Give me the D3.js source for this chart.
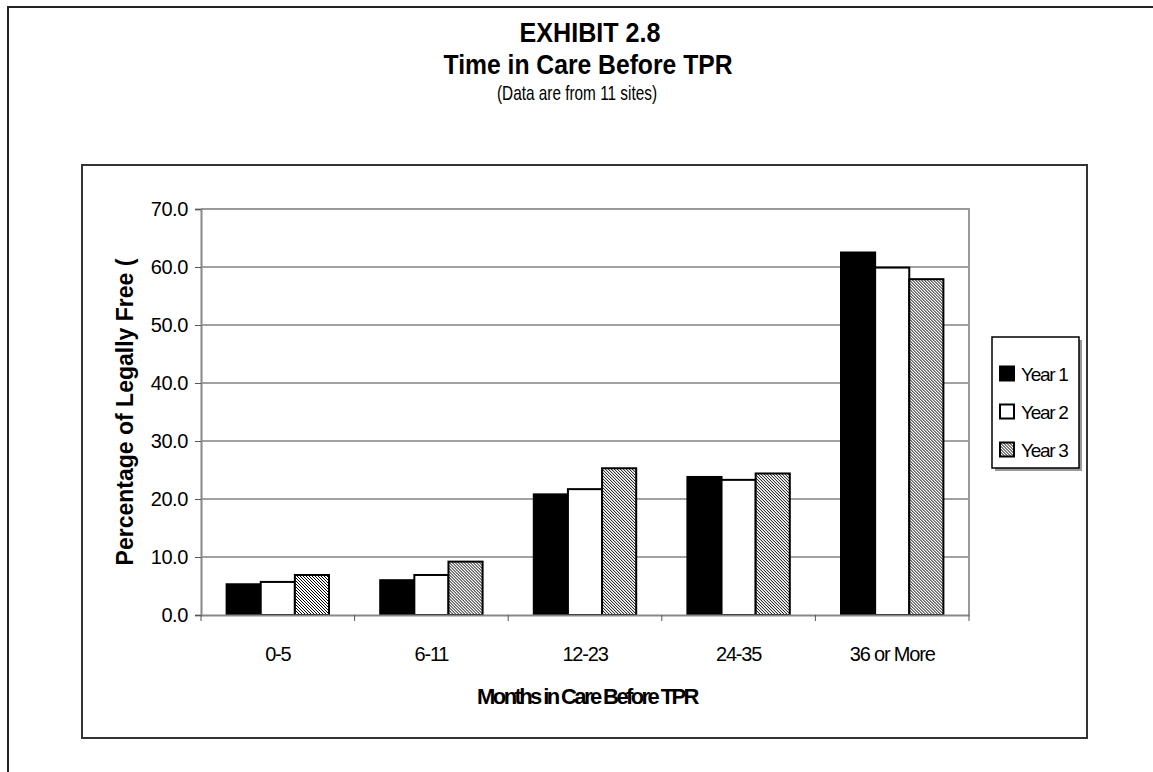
<!DOCTYPE html>
<html>
<head>
  <title>Exhibit 2.8</title>
  <script src="https://d3js.org/d3.v7.min.js"></script>
  <style>
    body { margin: 0; background: #ffffff; }
    svg { display: block; }
    .ttl { font-family: "Liberation Sans Narrow", "Arial Narrow", "Liberation Sans", Arial, sans-serif; fill: #000; }
    .lbl { font-family: "Liberation Sans", Arial, sans-serif; fill: #000; }
  </style>
</head>
<body>
<svg width="1153" height="772"></svg>

<script>
  // data
  var categories = ["0-5", "6-11", "12-23", "24-35", "36 or More"];
  var seriesNames = ["Year 1", "Year 2", "Year 3"];
  var year1 = [5.3, 6.0, 20.8, 23.8, 62.5];
  var year2 = [5.7, 6.9, 21.7, 23.3, 59.9];
  var year3 = [6.9, 9.2, 25.3, 24.4, 57.9];
  var yTicks = [0, 10, 20, 30, 40, 50, 60, 70];

  var seriesValues = [year1, year2, year3];

  var svg = d3.select("svg");

  // hatch pattern for Year 3
  var defs = svg.append("defs");
  var pat = defs.append("pattern")
    .attr("id", "hatch")
    .attr("patternUnits", "userSpaceOnUse")
    .attr("width", 3)
    .attr("height", 3);
  pat.append("rect").attr("width", 3).attr("height", 3).attr("fill", "#ffffff");
  pat.append("path")
    .attr("d", "M-1,-1 L4,4 M-1,2 L1,4 M2,-1 L4,1")
    .attr("stroke", "#000")
    .attr("stroke-width", 1);

  var fills = ["#000000", "#ffffff", "url(#hatch)"];

  // page frame (top and left)
  svg.append("line").attr("x1", 7).attr("x2", 1153).attr("y1", 7).attr("y2", 7)
     .attr("stroke", "#222").attr("stroke-width", 2);
  svg.append("line").attr("x1", 8).attr("x2", 8).attr("y1", 6).attr("y2", 772)
     .attr("stroke", "#222").attr("stroke-width", 2);

  // titles
  svg.append("text").attr("class", "ttl")
     .attr("x", 590).attr("y", 42).attr("text-anchor", "middle")
     .attr("font-size", 28).attr("font-weight", "bold")
     .attr("textLength", 141).attr("lengthAdjust", "spacingAndGlyphs")
     .text("EXHIBIT 2.8");
  svg.append("text").attr("class", "ttl")
     .attr("x", 588).attr("y", 74).attr("text-anchor", "middle")
     .attr("font-size", 28).attr("font-weight", "bold")
     .attr("textLength", 289).attr("lengthAdjust", "spacingAndGlyphs")
     .text("Time in Care Before TPR");
  svg.append("text").attr("class", "ttl")
     .attr("x", 577).attr("y", 100).attr("text-anchor", "middle")
     .attr("font-size", 21)
     .attr("textLength", 160).attr("lengthAdjust", "spacingAndGlyphs")
     .text("(Data are from 11 sites)");

  // chart area box
  svg.append("rect")
     .attr("x", 82).attr("y", 165).attr("width", 1005).attr("height", 573)
     .attr("fill", "none").attr("stroke", "#333").attr("stroke-width", 2);

  // plot area
  var plotLeft = 201, plotRight = 969, plotTop = 209, plotBottom = 615;

  var x = d3.scaleBand().domain(categories).range([plotLeft, plotRight]).paddingInner(0).paddingOuter(0);
  var xs = d3.scaleBand().domain(seriesNames).range([0, x.bandwidth()])
             .paddingInner(0).paddingOuter(0.75);
  var y = d3.scaleLinear().domain([0, 70]).range([plotBottom, plotTop]);

  // gridlines
  svg.append("g").selectAll("line")
     .data(yTicks.filter(function(t) { return t > 0 && t < 70; }))
     .enter().append("line")
     .attr("x1", plotLeft).attr("x2", plotRight)
     .attr("y1", function(d) { return y(d); }).attr("y2", function(d) { return y(d); })
     .attr("stroke", "#444").attr("stroke-width", 1);

  // plot border top / right
  svg.append("line").attr("x1", plotLeft).attr("x2", plotRight + 1).attr("y1", plotTop).attr("y2", plotTop)
     .attr("stroke", "#999").attr("stroke-width", 2);
  svg.append("line").attr("x1", plotRight).attr("x2", plotRight).attr("y1", plotTop).attr("y2", plotBottom)
     .attr("stroke", "#999").attr("stroke-width", 2);

  // bars
  var groups = svg.append("g").selectAll("g")
     .data(categories)
     .enter().append("g")
     .attr("transform", function(d) { return "translate(" + x(d) + ",0)"; });

  groups.selectAll("rect")
     .data(function(c, i) {
       return seriesNames.map(function(s, j) { return { s: s, j: j, v: seriesValues[j][i] }; });
     })
     .enter().append("rect")
     .attr("x", function(d) { return xs(d.s); })
     .attr("width", xs.bandwidth())
     .attr("y", function(d) { return y(d.v); })
     .attr("height", function(d) { return y(0) - y(d.v); })
     .attr("fill", function(d) { return fills[d.j]; })
     .attr("stroke", "#000").attr("stroke-width", 2);

  // y axis
  var yAxis = d3.axisLeft(y).tickValues(yTicks).tickFormat(d3.format(".1f"))
                .tickSize(6).tickPadding(7);
  var ya = svg.append("g").attr("transform", "translate(" + plotLeft + ",0)").call(yAxis);
  ya.select(".domain").attr("stroke", "#888").attr("stroke-width", 2);
  ya.selectAll(".tick line").attr("stroke", "#555").attr("stroke-width", 1);
  ya.selectAll(".tick text").attr("class", "lbl")
    .attr("font-size", 20).attr("letter-spacing", -0.4).attr("fill", "#000");

  // x axis (ticks on category boundaries)
  var xAxis = d3.axisBottom(x).tickSize(0).tickPadding(32);
  var xa = svg.append("g").attr("transform", "translate(0," + plotBottom + ")").call(xAxis);
  xa.select(".domain").attr("stroke", "#888").attr("stroke-width", 2);
  xa.selectAll(".tick text").attr("class", "lbl")
    .attr("font-size", 20).attr("letter-spacing", -1.2).attr("fill", "#000");
  xa.append("g").selectAll("line")
    .data(categories.slice(1).concat(["end"]))
    .enter().append("line")
    .attr("x1", function(d) { return d === "end" ? plotRight : x(d); })
    .attr("x2", function(d) { return d === "end" ? plotRight : x(d); })
    .attr("y1", 0).attr("y2", 6)
    .attr("stroke", "#555").attr("stroke-width", 1);
  xa.append("line").attr("x1", plotLeft).attr("x2", plotLeft).attr("y1", 0).attr("y2", 6)
    .attr("stroke", "#555").attr("stroke-width", 1);

  // axis titles
  svg.append("text").attr("class", "lbl")
     .attr("x", (plotLeft + plotRight) / 2 + 2).attr("y", 704).attr("text-anchor", "middle")
     .attr("font-size", 22).attr("font-weight", "bold").attr("letter-spacing", -2.6)
     .text("Months in Care Before TPR");

  svg.append("text").attr("class", "lbl")
     .attr("transform", "translate(133," + ((plotTop + plotBottom) / 2) + ") rotate(-90)")
     .attr("text-anchor", "middle")
     .attr("font-size", 23).attr("font-weight", "bold")
     .text("Percentage of Legally Free (");

  // legend
  var lg = svg.append("g").attr("transform", "translate(992,337)");
  lg.append("rect").attr("x", 3).attr("y", 3).attr("width", 87).attr("height", 131)
    .attr("fill", "#999");
  lg.append("rect").attr("x", 0).attr("y", 0).attr("width", 87).attr("height", 131)
    .attr("fill", "#fff").attr("stroke", "#000").attr("stroke-width", 1.5);

  var items = lg.selectAll("g.item").data(seriesNames).enter().append("g")
    .attr("class", "item")
    .attr("transform", function(d, i) { return "translate(0," + (36.5 + i * 38) + ")"; });
  items.append("rect").attr("x", 8).attr("y", -7).attr("width", 14).attr("height", 14)
    .attr("fill", function(d, i) { return fills[i]; })
    .attr("stroke", "#000").attr("stroke-width", 2);
  items.append("text").attr("class", "lbl")
    .attr("x", 29).attr("y", 7)
    .attr("font-size", 19).attr("letter-spacing", -1.3)
    .text(function(d) { return d; });
</script>
</body>
</html>
